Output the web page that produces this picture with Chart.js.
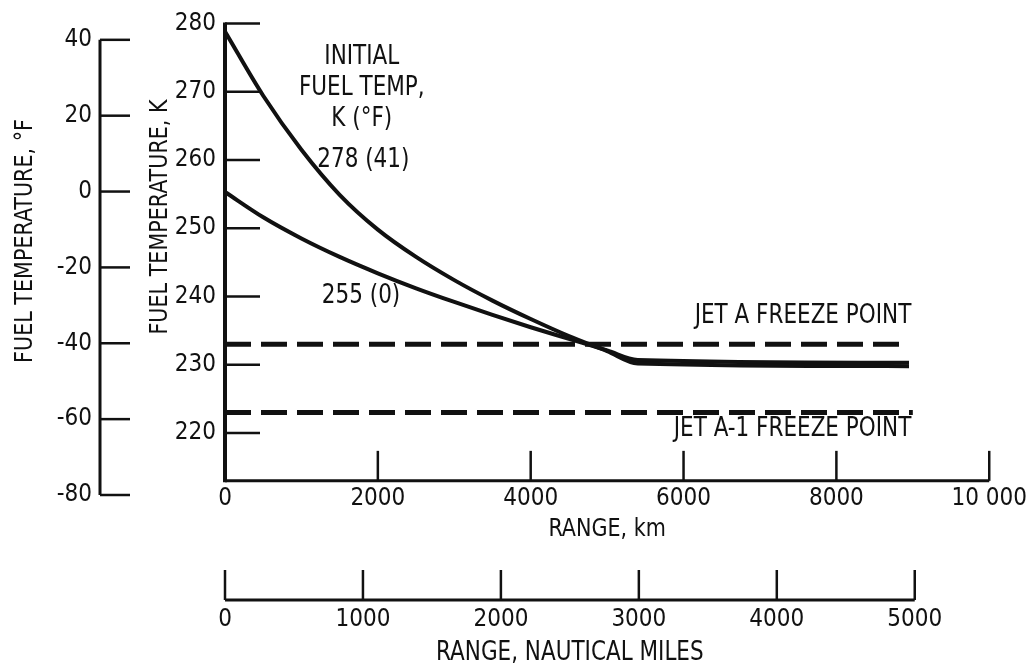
<!DOCTYPE html>
<html>
<head>
<meta charset="utf-8">
<script src="https://cdn.jsdelivr.net/npm/chart.js@4.4.1/dist/chart.umd.min.js"></script>
<style>
  html, body { margin: 0; padding: 0; background: #fff; }
  #wrap { width: 1031px; height: 669px; }
</style>
</head>
<body>
<div id="wrap"><canvas id="fuelChart" width="1031" height="669"></canvas></div>
<script>
// range along the flight, km
const rangeKm = [0, 500, 1000, 1500, 2000, 2500, 3000, 3500, 4000, 4500, 5000, 5400, 8950];
// fuel temperature, K, for the two initial fuel temperatures
const temp278 = [278.8, 269.4, 261.5, 254.9, 249.8, 245.8, 242.4, 239.4, 236.7, 234.2, 232.0, 230.2, 229.8];
const temp255 = [255.3, 251.6, 248.5, 245.8, 243.4, 241.2, 239.2, 237.3, 235.5, 233.8, 232.1, 230.7, 230.3];

// freeze points, K
const jetAKm = [0, 8950];
const jetATemp = [233, 233];
const jetA1Km = [0, 9000];
const jetA1Temp = [223, 223];

// tick values
const kTicks = [220, 230, 240, 250, 260, 270, 280];
const fTicks = [-80, -60, -40, -20, 0, 20, 40];
const kmTicks = [0, 2000, 4000, 6000, 8000, 10000];
const kmTickLabels = ['0', '2000', '4000', '6000', '8000', '10 000'];
const nmiTicks = [0, 1000, 2000, 3000, 4000, 5000];
const nmiTickLabels = ['0', '1000', '2000', '3000', '4000', '5000'];
// the nautical-mile scale as drawn: 10 000 km lines up with about 5540 n mi
const NMI_AT_10000_KM = 5540;

// labels written on the plot (km, K)
const notes = [
  { text: 'INITIAL', km: 1790, k: 275.0 },
  { text: 'FUEL TEMP,', km: 1790, k: 270.5 },
  { text: 'K (°F)', km: 1790, k: 266.0 },
  { text: '278 (41)', km: 1810, k: 260.0 },
  { text: '255 (0)', km: 1780, k: 240.1 },
  { text: 'JET A FREEZE POINT', km: 8980, k: 237.1, align: 'right' },
  { text: 'JET A-1 FREEZE POINT', km: 8980, k: 220.5, align: 'right' },
];

const K_BASE = 213; // where the range axis sits
const INK = '#111';
const FONT = "'Liberation Sans Narrow', 'DejaVu Sans Condensed', 'Liberation Sans', sans-serif";
const SQUEEZE = 0.92; // the lettering of the drawing is narrow

const kToF = (k) => (k - 273.15) * 1.8 + 32;
const fToK = (f) => (f - 32) / 1.8 + 273.15;
const toPoints = (xs, ys) => xs.map((v, i) => ({ x: v, y: ys[i] }));

Chart.defaults.font.family = FONT;
Chart.defaults.color = INK;

function stroke(ctx, x1, y1, x2, y2, w) {
  ctx.lineWidth = w;
  ctx.beginPath();
  ctx.moveTo(x1, y1);
  ctx.lineTo(x2, y2);
  ctx.stroke();
}

function text(ctx, str, x, y, size, align = 'center', rotate = 0) {
  ctx.save();
  ctx.translate(x, y);
  ctx.rotate(rotate);
  ctx.scale(SQUEEZE, 1);
  ctx.font = `${size}px ${FONT}`;
  ctx.textAlign = align;
  ctx.textBaseline = 'middle';
  ctx.fillText(str, 0, 0);
  ctx.restore();
}

// axes in the old drawing have ticks pointing inward, drawn by hand here
const axisPainter = {
  id: 'axisPainter',
  afterDraw(chart) {
    const { ctx, scales: { x, xn, y, yF } } = chart;
    const baseY = y.getPixelForValue(K_BASE);
    const x0 = x.getPixelForValue(0);
    ctx.save();
    ctx.strokeStyle = INK;
    ctx.fillStyle = INK;

    // K axis
    stroke(ctx, x0, y.getPixelForValue(280) - 1, x0, baseY + 1.5, 4);
    kTicks.forEach((v) => {
      const py = y.getPixelForValue(v);
      stroke(ctx, x0, py, x0 + 35, py, 2.5);
    });

    // °F axis
    const fx = yF.right;
    stroke(ctx, fx, yF.getPixelForValue(40), fx, yF.getPixelForValue(-80), 3);
    fTicks.forEach((v) => {
      const py = yF.getPixelForValue(v);
      stroke(ctx, fx, py, fx + 30, py, 2.5);
    });

    // range, km
    stroke(ctx, x0, baseY, x.getPixelForValue(10000), baseY, 3);
    kmTicks.slice(1).forEach((v) => {
      const px = x.getPixelForValue(v);
      stroke(ctx, px, baseY, px, baseY - 30, 2.5);
    });

    // range, nautical miles
    const ny = xn.top + 105;
    stroke(ctx, xn.getPixelForValue(0), ny, xn.getPixelForValue(5000), ny, 3);
    nmiTicks.forEach((v) => {
      const px = xn.getPixelForValue(v);
      stroke(ctx, px, ny, px, ny - 30, 2.5);
    });

    // axis titles
    text(ctx, 'FUEL TEMPERATURE, °F', yF.left + 25, 241, 25, 'center', -Math.PI / 2);
    text(ctx, 'FUEL TEMPERATURE, K', y.left + 60, 217, 25, 'center', -Math.PI / 2);
    text(ctx, 'RANGE, km', (x0 + x.getPixelForValue(10000)) / 2, baseY + 49, 25);
    text(ctx, 'RANGE, NAUTICAL MILES', (xn.getPixelForValue(0) + xn.getPixelForValue(5000)) / 2, xn.top + 158, 26);

    // notes on the plot
    notes.forEach((n) => {
      text(ctx, n.text, x.getPixelForValue(n.km), y.getPixelForValue(n.k), 26, n.align || 'center');
    });
    ctx.restore();
  },
};

const solid = { borderColor: INK, borderWidth: 4, pointRadius: 0, cubicInterpolationMode: 'monotone', fill: false, xAxisID: 'x', yAxisID: 'y' };
const dashed = { borderColor: INK, borderWidth: 5, borderDash: [26, 10], pointRadius: 0, fill: false, xAxisID: 'x', yAxisID: 'y' };

new Chart(document.getElementById('fuelChart'), {
  type: 'line',
  data: {
    datasets: [
      { label: '278 (41)', data: toPoints(rangeKm, temp278), ...solid },
      { label: '255 (0)', data: toPoints(rangeKm, temp255), ...solid },
      { label: 'Jet A freeze point', data: toPoints(jetAKm, jetATemp), ...dashed },
      { label: 'Jet A-1 freeze point', data: toPoints(jetA1Km, jetA1Temp), ...dashed },
    ],
  },
  options: {
    responsive: false,
    animation: false,
    layout: { padding: { left: 0, right: 41, top: 23, bottom: 0 } },
    plugins: { legend: { display: false }, tooltip: { enabled: false } },
    scales: {
      x: {
        type: 'linear',
        axis: 'x',
        position: { y: K_BASE },
        min: 0,
        max: 10000,
        grid: { display: false, drawTicks: false },
        border: { display: false },
        afterBuildTicks: (s) => { s.ticks = kmTicks.map((v) => ({ value: v })); },
        ticks: { padding: 4, autoSkip: false, maxRotation: 0, font: { size: 24 }, callback: (v, i) => kmTickLabels[i] },
      },
      xn: {
        type: 'linear',
        axis: 'x',
        position: 'bottom',
        min: 0,
        max: NMI_AT_10000_KM,
        // tickLength only pushes the labels down, the marks are painted by the plugin
        grid: { display: false, drawTicks: true, tickLength: 105 },
        border: { display: false },
        afterBuildTicks: (s) => { s.ticks = nmiTicks.map((v) => ({ value: v })); },
        afterFit: (s) => { s.height = 174; },
        ticks: { padding: 5, autoSkip: false, maxRotation: 0, font: { size: 24 }, callback: (v, i) => nmiTickLabels[i] },
      },
      y: {
        type: 'linear',
        position: 'left',
        weight: 0,
        min: fToK(-80),
        max: 280,
        grid: { display: false, drawTicks: false },
        border: { display: false },
        afterBuildTicks: (s) => { s.ticks = kTicks.map((v) => ({ value: v })); },
        afterFit: (s) => { s.width = 125; },
        ticks: { padding: 9, font: { size: 24 }, callback: (v) => String(v) },
      },
      yF: {
        type: 'linear',
        axis: 'y',
        position: 'left',
        weight: 1,
        min: -80,
        max: kToF(280),
        grid: { display: false, drawTicks: false },
        border: { display: false },
        afterBuildTicks: (s) => { s.ticks = fTicks.map((v) => ({ value: v })); },
        afterFit: (s) => { s.width = 100; },
        ticks: { padding: 8, font: { size: 24 }, callback: (v) => String(v) },
      },
    },
  },
  plugins: [axisPainter],
});
</script>
</body>
</html>
